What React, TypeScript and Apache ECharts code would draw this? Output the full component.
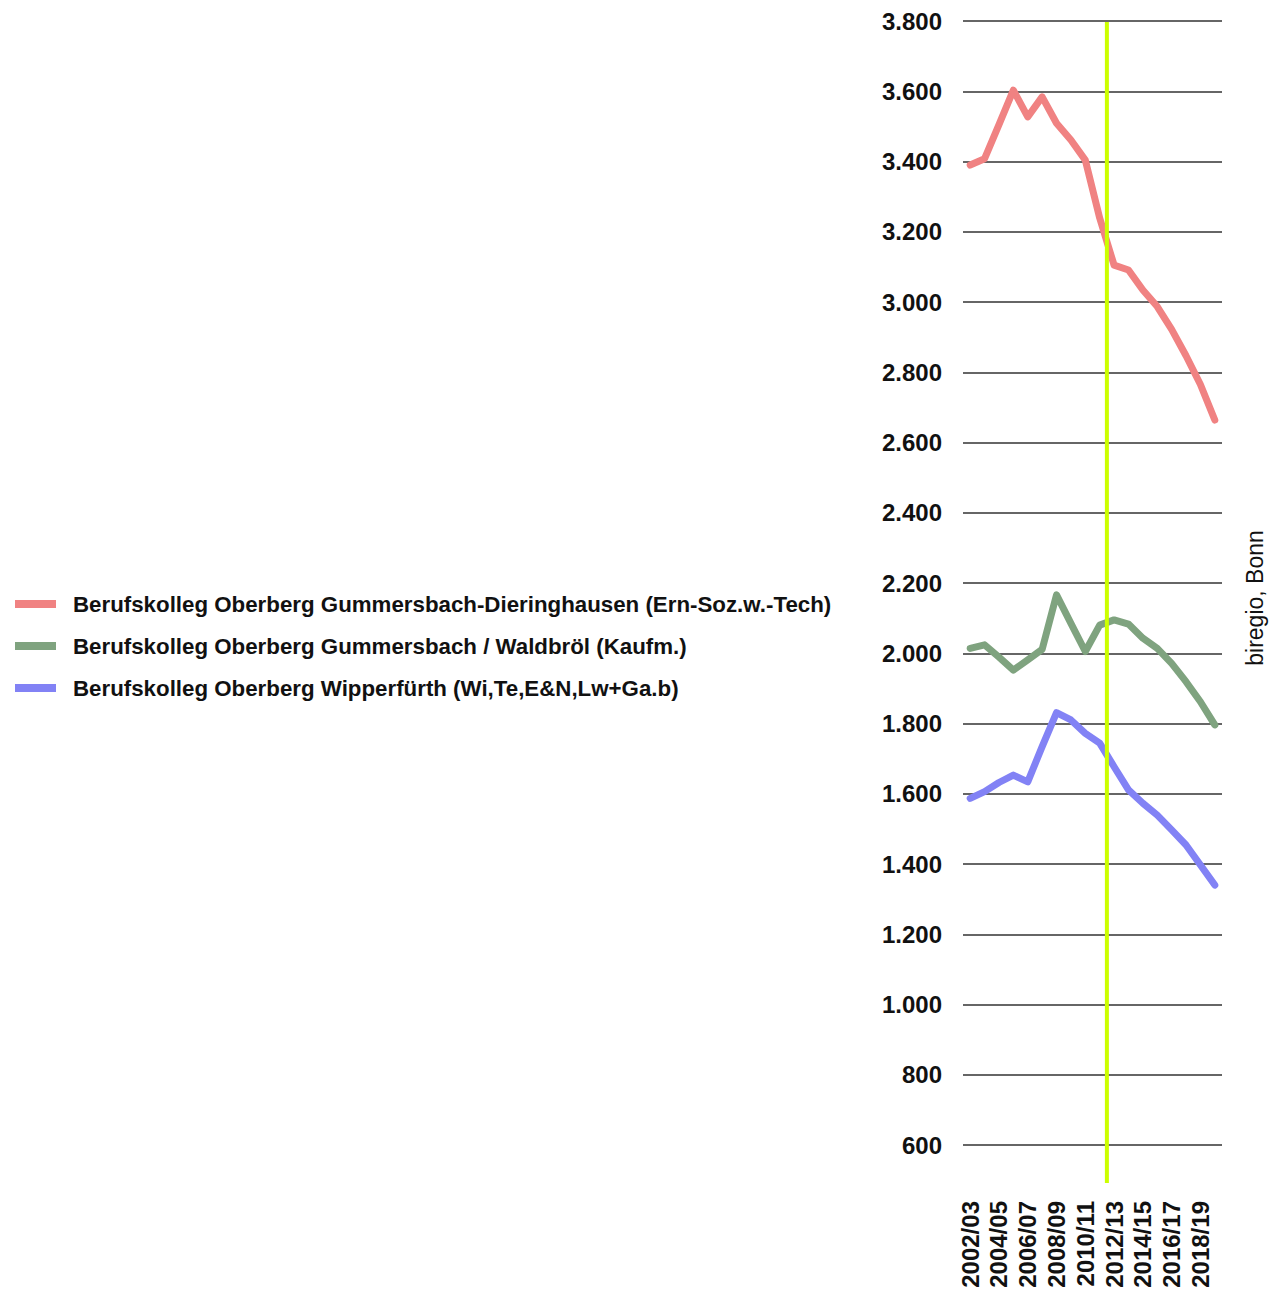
import React, { useEffect, useRef } from "react";
import * as echarts from "echarts";

const categories = [
  "2002/03", "2003/04", "2004/05", "2005/06", "2006/07", "2007/08", "2008/09", "2009/10", "2010/11",
  "2011/12", "2012/13", "2013/14", "2014/15", "2015/16", "2016/17", "2017/18", "2018/19", "2019/20",
];

const seriesNames = [
  "Berufskolleg Oberberg Gummersbach-Dieringhausen (Ern-Soz.w.-Tech)",
  "Berufskolleg Oberberg Gummersbach / Waldbröl (Kaufm.)",
  "Berufskolleg Oberberg Wipperfürth (Wi,Te,E&N,Lw+Ga.b)",
];

const dieringhausen = [3390, 3408, 3505, 3603, 3527, 3584, 3509, 3461, 3404, 3239, 3105, 3091, 3034, 2987, 2922, 2847, 2765, 2664];
const waldbroel = [2014, 2024, 1989, 1952, 1981, 2011, 2166, 2085, 2005, 2080, 2095, 2083, 2043, 2014, 1971, 1919, 1862, 1796];
const wipperfuerth = [1587, 1606, 1632, 1653, 1634, 1734, 1831, 1810, 1772, 1744, 1677, 1611, 1573, 1539, 1497, 1454, 1397, 1340];

const colors = ["#F08282", "#7FA37F", "#8282F5"];

// boundary position of the marker (between 2011/12 and 2012/13), in category-band units
const markerPosition = 10;

const sourceText = "biregio, Bonn";

const fontFamily = "'Liberation Sans', Arial, sans-serif";

export default function App() {
  const ref = useRef<HTMLDivElement>(null);

  useEffect(() => {
    document.body.style.margin = "0";
    if (!ref.current) return;
    const chart = echarts.init(ref.current, null, { renderer: "svg" });
    const allSeries = [dieringhausen, waldbroel, wipperfuerth];

    chart.setOption({
      animation: false,
      backgroundColor: "#ffffff",
      textStyle: { fontFamily },
      grid: [
        { left: 963, right: 56, top: 21, bottom: 148 },
        { left: 963, right: 56, top: 22, bottom: 110 },
      ],
      legend: {
        orient: "vertical",
        left: 15,
        top: 593,
        padding: 0,
        itemWidth: 41,
        itemHeight: 8,
        itemGap: 20,
        icon: "rect",
        data: seriesNames,
        textStyle: {
          fontFamily,
          fontSize: 22.3,
          fontWeight: "bold",
          color: "#111",
          padding: [0, 0, 0, 12],
          lineHeight: 22,
        },
      },
      xAxis: [
        {
          type: "category",
          gridIndex: 0,
          data: categories,
          boundaryGap: true,
          axisLine: { show: false },
          axisTick: { show: false },
          axisLabel: {
            rotate: 90,
            interval: 1,
            margin: 56,
            fontFamily,
            fontSize: 24,
            fontWeight: "bold",
            color: "#111",
          },
        },
        {
          type: "value",
          gridIndex: 1,
          min: 0,
          max: categories.length,
          show: false,
        },
      ],
      yAxis: [
        {
          type: "value",
          gridIndex: 0,
          min: 600,
          max: 3800,
          interval: 200,
          axisLine: { show: false },
          axisTick: { show: false },
          splitLine: { lineStyle: { color: "#666", width: 2 } },
          axisLabel: {
            margin: 21,
            fontFamily,
            fontSize: 24,
            fontWeight: "bold",
            color: "#111",
            formatter: (v: number) => v.toLocaleString("de-DE"),
          },
        },
        { type: "value", gridIndex: 1, min: 0, max: 1, show: false },
      ],
      series: [
        ...seriesNames.map((name, i) => ({
          name,
          type: "line",
          xAxisIndex: 0,
          yAxisIndex: 0,
          data: allSeries[i],
          symbol: "none",
          color: colors[i],
          lineStyle: { color: colors[i], width: 7, cap: "round", join: "round" },
          z: 3,
        })),
        {
          name: "marker",
          type: "line",
          xAxisIndex: 1,
          yAxisIndex: 1,
          data: [
            [markerPosition, 0],
            [markerPosition, 1],
          ],
          symbol: "none",
          lineStyle: { color: "#CCFF00", width: 4 },
          z: 4,
        },
      ],
      graphic: [
        {
          type: "text",
          x: 1255,
          y: 598,
          rotation: Math.PI / 2,
          style: {
            text: sourceText,
            fontFamily,
            fontSize: 23,
            fill: "#111",
            align: "center",
            verticalAlign: "middle",
          },
        },
      ],
    });
    return () => chart.dispose();
  }, []);

  return <div ref={ref} style={{ width: 1278, height: 1293 }} />;
}
